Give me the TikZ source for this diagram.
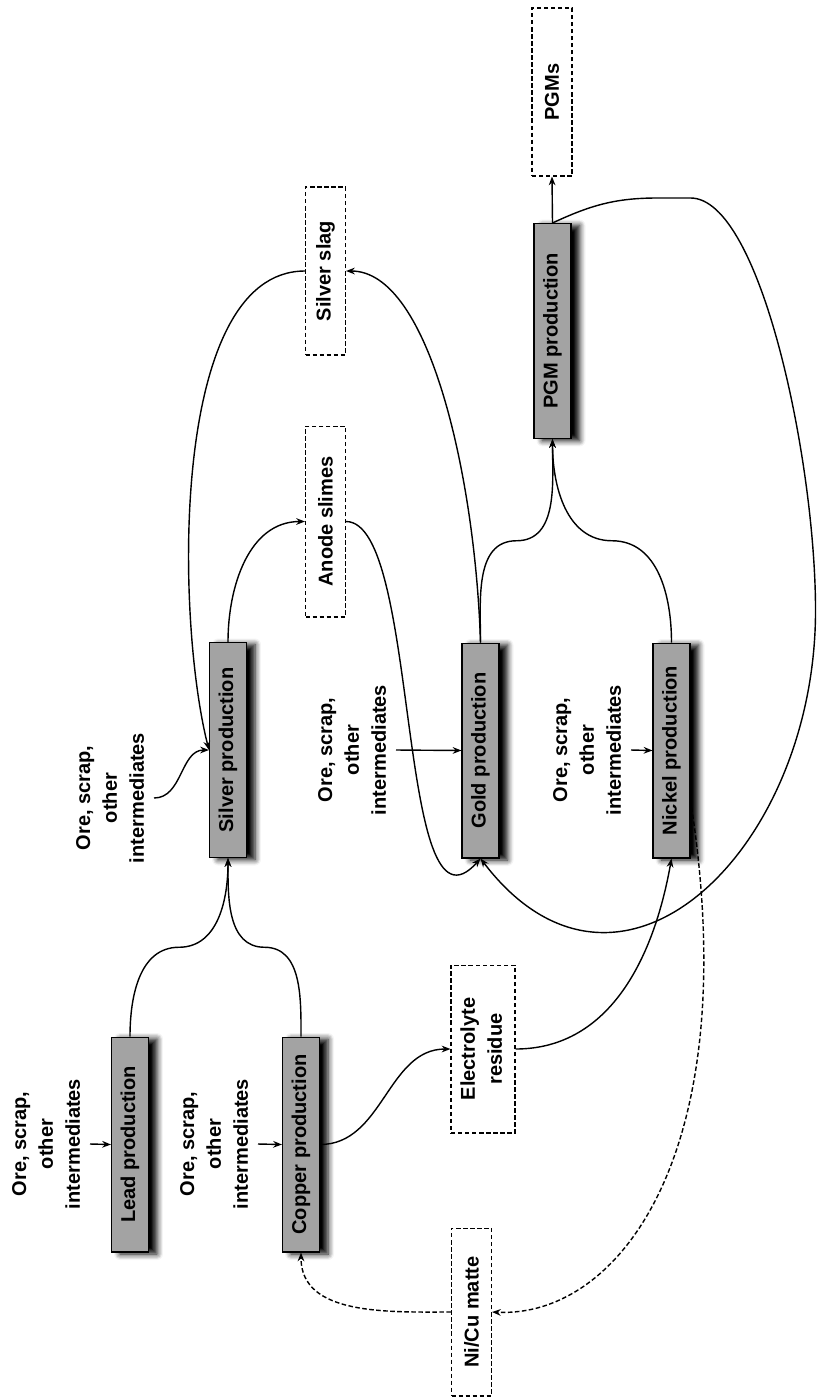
\documentclass[tikz,border=0pt]{standalone}
\usepackage{fontspec}
\setmainfont{Liberation Sans}
\usetikzlibrary{arrows.meta,shadows.blur,calc}

% text set sideways, reading upwards
\newcommand{\vlabel}[1]{\rotatebox{90}{#1}}
\newcommand{\vstack}[1]{\rotatebox{90}{\begin{tabular}{@{}c@{}}#1\end{tabular}}}
\newcommand{\feedtext}{\vstack{Ore, scrap,\\other\\intermediates}}

\tikzset{
  proc/.style={draw,line width=.6pt,fill=black!36,inner sep=0pt,
    minimum width=.74cm,minimum height=4.3cm,
    blur shadow={shadow xshift=.17cm,shadow yshift=-.04cm,
      shadow blur radius=.12cm,shadow blur steps=6,shadow opacity=100}},
  prodbox/.style={draw,line width=.6pt,dash pattern=on 2.5pt off 1.5pt,
    fill=white,inner sep=0pt,minimum width=.8cm,minimum height=3.36cm},
  feedlabel/.style={inner sep=1pt,anchor=east},
  stream/.style={->,line width=.8pt},
  recycle/.style={stream,dash pattern=on 2.6pt off 1.4pt}
}

\begin{document}
\begin{tikzpicture}[x=.02cm,y=.02cm,>={Stealth[length=5pt,width=3.8pt]},
    font=\fontsize{11.4}{15.3}\selectfont\bfseries]
  \useasboundingbox (0,0) rectangle (821,-1397);

  % production steps
  \node[proc] (lead) at (130,-1144.5) {\vlabel{Lead production}};
  \node[proc] (copper) at (301,-1144.5) {\vlabel{Copper production}};
  \node[proc] (silver) at (228,-750) {\vlabel{Silver production}};
  \node[proc] (gold) at (480.5,-750.5) {\vlabel{Gold production}};
  \node[proc] (nickel) at (671.5,-750.5) {\vlabel{Nickel production}};
  \node[proc] (pgm) at (552.5,-331) {\vlabel{PGM production}};

  % products and intermediates
  \node[prodbox] (pgms) at (552,-92) {\vlabel{PGMs}};
  \node[prodbox] (slag) at (325.5,-271) {\vlabel{Silver slag}};
  \node[prodbox,minimum height=3.82cm] (slimes) at (325.5,-521.5) {\vlabel{Anode slimes}};
  \node[prodbox,minimum width=1.28cm] (residue) at (483,-1049) {\vstack{Electrolyte\\residue}};
  \node[prodbox] (matte) at (471.5,-1312) {\vlabel{Ni/Cu matte}};

  % primary feeds
  \node[feedlabel] (oreLead) at (90,-1144) {\feedtext};
  \node[feedlabel] (oreCopper) at (258,-1144) {\feedtext};
  \node[feedlabel] (oreSilver) at (154,-798) {\feedtext};
  \node[feedlabel] (oreGold) at (396,-750) {\feedtext};
  \node[feedlabel] (oreNickel) at (631,-750) {\feedtext};

  \draw[stream] (oreLead.east) -- (lead.west);
  \draw[stream] (oreCopper.east) -- (copper.west);
  \draw[stream] (oreSilver.east) to[out=0,in=180] (silver.west);
  \draw[stream] (oreGold.east) -- (gold.west);
  \draw[stream] (oreNickel.east) -- (nickel.west);

  % lead and copper into silver
  \draw[stream] (lead.north) to[out=90,in=180] ($(lead.north)!.5!(silver.south)$)
    to[out=0,in=-90] (silver.south);
  \draw[stream] (copper.north) to[out=90,in=0] ($(copper.north)!.5!(silver.south)$)
    to[out=180,in=-90] (silver.south);

  % silver, slimes and slag
  \draw[stream] (silver.north) to[out=90,in=180] (slimes.west);
  \draw[stream] (slimes.east) .. controls +(75,0) and +(-85,-95) .. (gold.south);
  \draw[stream] (gold.north) .. controls +(-5,162) and +(84,0) .. (slag.east);
  \draw[stream] (slag.west) .. controls +(-136,0) and +(-33,130) .. (silver.west);

  % gold and nickel into PGM
  \draw[stream] (gold.north) to[out=90,in=180] ($(gold.north)!.5!(pgm.south)$)
    to[out=0,in=-90] (pgm.south);
  \draw[stream] (nickel.north) to[out=90,in=0] ($(nickel.north)!.5!(pgm.south)$)
    to[out=180,in=-90] (pgm.south);
  \draw[stream] (pgm.north) -- (pgms.south);
  \draw[stream] (pgm.north) to[out=25,in=180] ++(105,25) -- ++(33,0)
    .. controls +(70,0) and +(0,150) .. ($(nickel.east)+(125,140)$)
    .. controls +(0,-240) and +(139,-182) .. (gold.south);

  % copper residue to nickel, matte back to copper
  \draw[stream] (copper.east) to[out=0,in=180] (residue.west);
  \draw[stream] (residue.east) to[out=0,in=-100] (nickel.south);
  \draw[recycle] ([yshift=-1cm]nickel.east) .. controls +(55,-350) and +(128,-6) .. (matte.east);
  \draw[recycle] (matte.west) to[out=180,in=-90] (copper.south);
\end{tikzpicture}
\end{document}
